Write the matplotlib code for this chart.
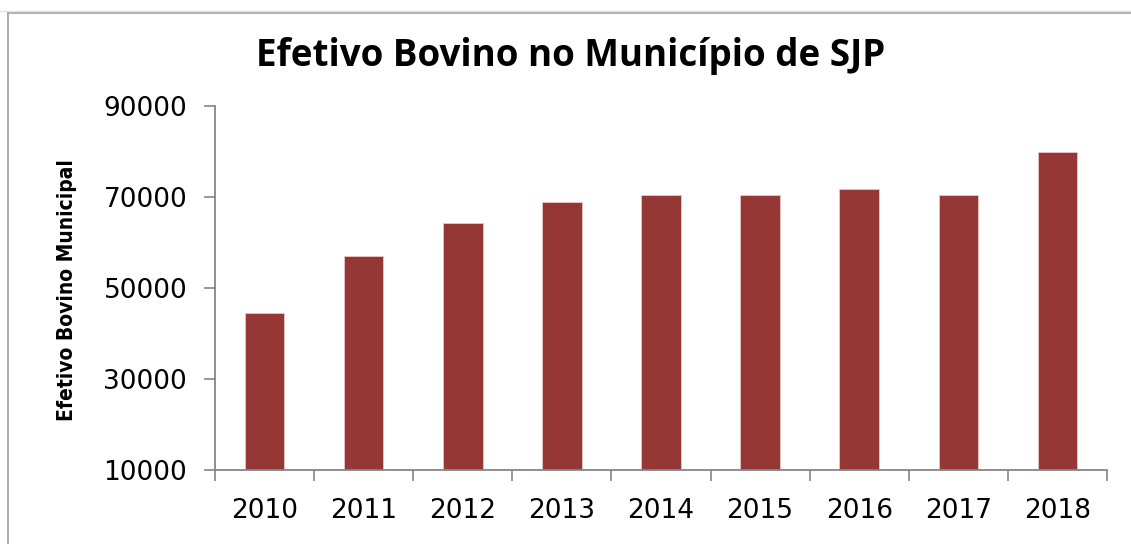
import matplotlib
matplotlib.use("Agg")
import matplotlib.pyplot as plt
from matplotlib.lines import Line2D

anos = ['2010', '2011', '2012', '2013', '2014', '2015', '2016', '2017', '2018']
efetivo = [44500, 57000, 64300, 68900, 70400, 70400, 71800, 70400, 79900]
yticks = [10000, 30000, 50000, 70000, 90000]

bar_color = '#953735'
axis_color = '#868686'

fig = plt.figure(figsize=(11.31, 5.44), dpi=100)
ax = fig.add_axes([215 / 1131, 1 - 470 / 544, (1107 - 215) / 1131, (470 - 106) / 544])

x = list(range(len(anos)))
ax.bar(x, [v - 10000 for v in efetivo], bottom=10000, width=0.4, color=bar_color,
       edgecolor='#e8c8c8', linewidth=0.6)

ax.set_xlim(-0.5, len(anos) - 0.5)
ax.set_ylim(10000, 90000)
ax.set_yticks(yticks)
ax.set_yticklabels([str(t) for t in yticks], fontsize=19, family='DejaVu Sans')
ax.set_xticks([i - 0.5 for i in range(len(anos) + 1)])
ax.set_xticklabels([])
ax.set_xticks(x, minor=True)
ax.set_xticklabels(anos, minor=True, fontsize=19, family='DejaVu Sans')
ax.tick_params(axis='x', which='minor', length=0, pad=20)
ax.tick_params(axis='x', which='major', length=8, width=1.2, color=axis_color, direction='out')
ax.tick_params(axis='y', length=8, width=1.2, color=axis_color, direction='out', pad=12)

for side in ['top', 'right']:
    ax.spines[side].set_visible(False)
for side in ['left', 'bottom']:
    ax.spines[side].set_color(axis_color)
    ax.spines[side].set_linewidth(1.3)

fig.text(571 / 1131, 1 - 56 / 544, 'Efetivo Bovino no Município de SJP', ha='center', va='center',
         fontsize=26.5, fontweight='bold', family='Open Sans')
fig.text(67 / 1131, 1 - 290 / 544, 'Efetivo Bovino Municipal', rotation=90, ha='center', va='center',
         fontsize=15, fontweight='bold', fontstretch='condensed', family='DejaVu Sans')

# chart area border (Excel-like frame)
fig.add_artist(Line2D([8 / 1131, 1], [1 - 13 / 544, 1 - 13 / 544], transform=fig.transFigure,
                      color='#a0a0a0', linewidth=1.2))
fig.add_artist(Line2D([8 / 1131, 8 / 1131], [0, 1 - 13 / 544], transform=fig.transFigure,
                      color='#a0a0a0', linewidth=1.2))
fig.add_artist(Line2D([0, 1], [1 - 11 / 544, 1 - 11 / 544], transform=fig.transFigure,
                      color='#dde3ec', linewidth=1.0))

fig.savefig('out.png', dpi=100)
